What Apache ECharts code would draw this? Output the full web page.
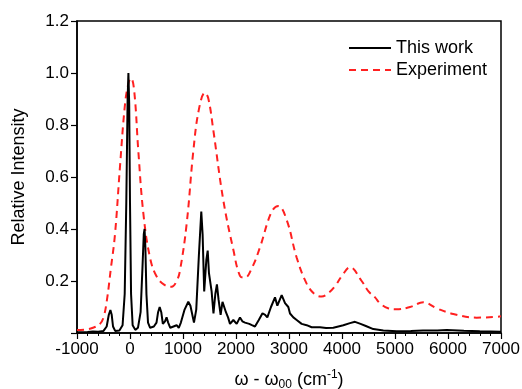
<!DOCTYPE html>
<html>
<head>
<meta charset="utf-8">
<script src="https://cdn.jsdelivr.net/npm/echarts@6/dist/echarts.min.js"></script>
<style>
  html, body { margin: 0; padding: 0; background: #fff; }
  #chart { width: 522px; height: 389px; }
</style>
</head>
<body>
<div id="chart"></div>
<script>
// calculated spectrum ("This work")
const simX = [-1000, -800, -700, -600, -500, -440, -400, -370, -345, -320, -280, -200, -140, -100, -70, -45, -30, -15, 0, 20, 50,
  100, 150, 200, 235, 260, 275, 290, 310, 340, 380, 450, 500, 530, 560, 590, 620, 660, 690, 720, 760, 820, 880, 920, 960,
  1030, 1100, 1140, 1170, 1207, 1250, 1300, 1345, 1370, 1400, 1440, 1466, 1490, 1515, 1540, 1575, 1610, 1640, 1670, 1710,
  1745, 1775, 1810, 1850, 1887, 1950, 2013, 2075, 2120, 2170, 2250, 2300, 2358, 2430, 2500, 2550, 2591, 2660, 2736, 2780,
  2862, 2925, 2987, 3019, 3082, 3145, 3239, 3333, 3428, 3585, 3700, 3836, 4025, 4150, 4245, 4350, 4450, 4591, 4780, 5031,
  5300, 5528, 5800, 5975, 6300, 6600, 7000]
const simY = [0.003, 0.004, 0.006, 0.005, 0.008, 0.025, 0.07, 0.088, 0.07, 0.025, 0.008, 0.01, 0.03, 0.15, 0.5, 0.9, 1.0, 0.88, 0.5, 0.15, 0.03,
  0.012, 0.02, 0.08, 0.25, 0.38, 0.40, 0.33, 0.15, 0.04, 0.02, 0.025, 0.04, 0.08, 0.10, 0.08, 0.035, 0.045, 0.06, 0.04, 0.02, 0.025, 0.03, 0.02, 0.04,
  0.09, 0.12, 0.105, 0.11, 0.04, 0.09, 0.3, 0.467, 0.38, 0.16, 0.28, 0.317, 0.23, 0.225, 0.16, 0.075, 0.15, 0.187, 0.13, 0.07,
  0.12, 0.125, 0.08, 0.06, 0.035, 0.05, 0.035, 0.06, 0.045, 0.04, 0.035, 0.03, 0.025, 0.05, 0.076, 0.07, 0.06, 0.1, 0.137, 0.105,
  0.146, 0.115, 0.10, 0.075, 0.06, 0.05, 0.035, 0.03, 0.022, 0.022, 0.019, 0.02, 0.03, 0.038, 0.043, 0.035, 0.027, 0.015, 0.01, 0.007,
  0.008, 0.01, 0.01, 0.012, 0.009, 0.007, 0.005]

// measured spectrum ("Experiment")
const expX = [-1000, -850, -700, -566, -500, -440, -360, -283, -189, -94, -30, 20, 80, 157, 252, 377, 503, 650, 786, 880, 943,
  1069, 1195, 1300, 1415, 1480, 1572, 1761, 1950, 2075, 2170, 2300, 2453, 2673, 2799, 2956, 3145, 3333, 3480, 3616, 3750,
  3868, 4000, 4151, 4371, 4500, 4623, 4717, 4870, 5031, 5283, 5535, 5786, 6100, 6541, 6887, 7000]
const expY = [0.012, 0.013, 0.02, 0.035, 0.06, 0.12, 0.25, 0.38, 0.64, 0.88, 0.96, 0.98, 0.93, 0.70, 0.46, 0.29, 0.217, 0.185, 0.178, 0.2, 0.24,
  0.42, 0.70, 0.86, 0.924, 0.90, 0.78, 0.51, 0.32, 0.22, 0.213, 0.25, 0.33, 0.467, 0.488, 0.435, 0.29, 0.19, 0.15, 0.14, 0.155,
  0.18, 0.22, 0.253, 0.2, 0.16, 0.137, 0.114, 0.095, 0.091, 0.1, 0.118, 0.095, 0.073, 0.059, 0.062, 0.064]

const seriesNames = ["This work", "Experiment"]

const zip = (xs, ys) => xs.map((x, i) => [x, ys[i]])

const font = "Liberation Sans, Arial, sans-serif"
const chart = echarts.init(document.getElementById("chart"), null, { renderer: "canvas" })

chart.setOption({
  animation: false,
  backgroundColor: "#fff",
  grid: {
    left: 77, right: 21, top: 21, bottom: 56,
    outerBoundsMode: "none", containLabel: false,
    show: true, borderColor: "#000", borderWidth: 1.5, backgroundColor: "transparent"
  },
  legend: {
    left: 343, top: 34, orient: "vertical",
    itemWidth: 42, itemHeight: 14, itemGap: 4,
    itemStyle: { opacity: 0 },
    textStyle: { fontFamily: font, fontSize: 18, color: "#000" },
    data: seriesNames
  },
  xAxis: {
    type: "value", min: -1000, max: 7000, interval: 1000,
    name: "{a|ω - ω}{sub|00}{a| (cm}{sup|-1}{a|)}",
    nameLocation: "middle", nameGap: 36,
    nameTextStyle: {
      fontFamily: font, color: "#000",
      rich: {
        a: { fontFamily: font, fontSize: 18, color: "#000" },
        sub: { fontFamily: font, fontSize: 12, color: "#000", padding: [10, 0, 0, 0] },
        sup: { fontFamily: font, fontSize: 12, color: "#000", padding: [0, 0, 10, 0] }
      }
    },
    axisLine: { onZero: false, lineStyle: { color: "#000", width: 1.5 } },
    axisTick: { inside: false, length: 6, lineStyle: { color: "#000", width: 1.2 } },
    minorTick: { show: true, splitNumber: 5, length: 3, lineStyle: { color: "#000", width: 1 } },
    splitLine: { show: false },
    axisLabel: { fontFamily: font, fontSize: 17, color: "#000", margin: 8, formatter: (v) => String(v) }
  },
  yAxis: {
    type: "value", min: 0, max: 1.2, interval: 0.2,
    name: "Relative Intensity",
    nameLocation: "middle", nameGap: 49,
    nameTextStyle: { fontFamily: font, fontSize: 18, color: "#000" },
    axisLine: { show: true, onZero: false, lineStyle: { color: "#000", width: 1.5 } },
    axisTick: { show: true, inside: false, length: 6, lineStyle: { color: "#000", width: 1.2 } },
    splitLine: { show: false },
    axisLabel: {
      fontFamily: font, fontSize: 17, color: "#000", margin: 8,
      formatter: (v) => (v === 0 ? "" : v.toFixed(1))
    }
  },
  series: [
    {
      name: seriesNames[0], type: "line", symbol: "none", smooth: false,
      lineStyle: { color: "#000", width: 2 },
      itemStyle: { color: "#000" },
      data: zip(simX, simY), z: 3
    },
    {
      name: seriesNames[1], type: "line", symbol: "none", smooth: 0.4,
      lineStyle: { color: "#ff2020", width: 2, type: [7, 5] },
      itemStyle: { color: "#ff2020" },
      data: zip(expX, expY), z: 2
    }
  ]
})
</script>
</body>
</html>
